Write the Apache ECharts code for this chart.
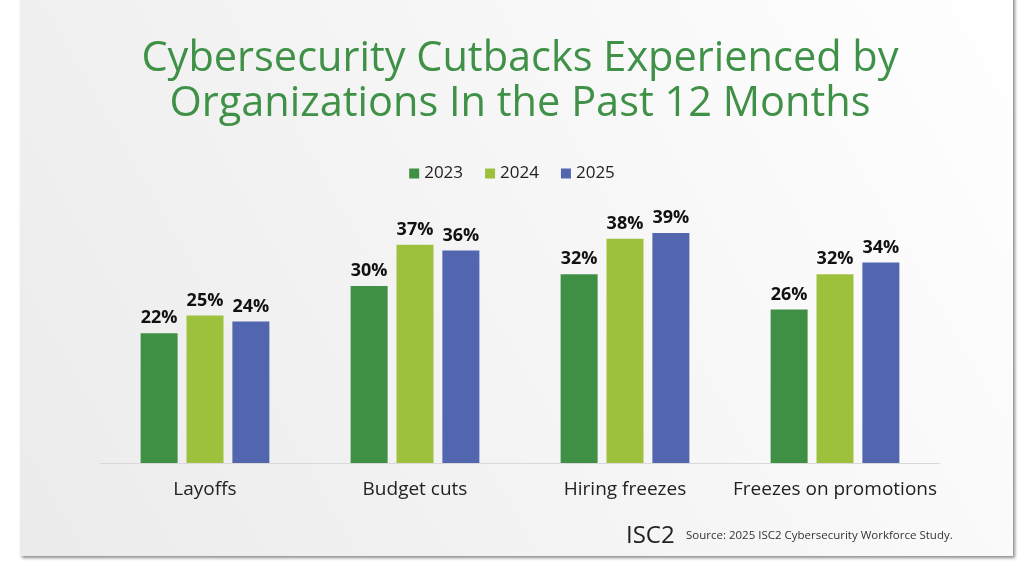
<!DOCTYPE html>
<html>
<head>
<meta charset="utf-8">
<script src="https://cdn.jsdelivr.net/npm/echarts@6/dist/echarts.min.js"></script>
<style>
html,body{margin:0;padding:0;background:#fff;}
#chart{width:1024px;height:571px;}
</style>
</head>
<body>
<div id="chart"></div>
<script>
const categories = ['Layoffs', 'Budget cuts', 'Hiring freezes', 'Freezes on promotions'];
const years = ['2023', '2024', '2025'];
const values2023 = [22, 30, 32, 26];
const values2024 = [25, 37, 38, 32];
const values2025 = [24, 36, 39, 34];
const colors = ['#3f8f45', '#9dc13c', '#5266af'];

const chart = echarts.init(document.getElementById('chart'));
const seriesData = [values2023, values2024, values2025];

chart.setOption({
  animation: false,
  backgroundColor: '#ffffff',
  graphic: [
    {
      type: 'rect', z: -10, silent: true,
      shape: { x: 20, y: -10, width: 993, height: 566 },
      style: {
        fill: new echarts.graphic.LinearGradient(1, 0, 0, 1, [
          { offset: 0, color: '#ffffff' },
          { offset: 1, color: '#ebebeb' }
        ]),
        shadowColor: 'rgba(0,0,0,0.45)', shadowBlur: 3, shadowOffsetX: 2, shadowOffsetY: 2
      }
    },
    {
      type: 'text', left: 626, top: 524,
      style: { text: 'ISC2', fill: '#222', font: '24px "Open Sans", sans-serif' }
    },
    {
      type: 'text', left: 686, top: 530,
      style: { text: 'Source: 2025 ISC2 Cybersecurity Workforce Study.', fill: '#333', font: '11.5px "Open Sans", sans-serif' }
    }
  ],
  title: {
    text: 'Cybersecurity Cutbacks Experienced by\nOrganizations In the Past 12 Months',
    left: 515, textAlign: 'center', top: 32,
    textStyle: { color: '#3e9146', fontFamily: 'Open Sans', fontWeight: 'normal', fontSize: 41.5, lineHeight: 45 }
  },
  legend: {
    data: years, top: 160, left: 'center',
    itemWidth: 10, itemHeight: 10, itemGap: 22, icon: 'rect',
    textStyle: { fontFamily: 'Open Sans', fontSize: 17, color: '#222' }
  },
  grid: { left: 100, right: 84, top: 227, bottom: 108 },
  xAxis: {
    type: 'category', data: categories,
    axisLine: { lineStyle: { color: '#d9d9d9', width: 1 } },
    axisTick: { show: false },
    axisLabel: { interval: 0, fontFamily: 'Open Sans', fontSize: 19, color: '#222', margin: 17 }
  },
  yAxis: { type: 'value', min: 0, max: 40, show: false, splitLine: { show: false } },
  series: years.map((y, i) => ({
    name: y, type: 'bar', data: seriesData[i],
    barWidth: 37, barGap: '24%',
    itemStyle: { color: colors[i] },
    label: {
      show: true, position: 'top', distance: 6,
      formatter: '{c}%',
      fontFamily: 'Open Sans', fontWeight: 'bold', fontSize: 18, color: '#111'
    }
  })),
  color: colors
});
</script>
</body>
</html>
